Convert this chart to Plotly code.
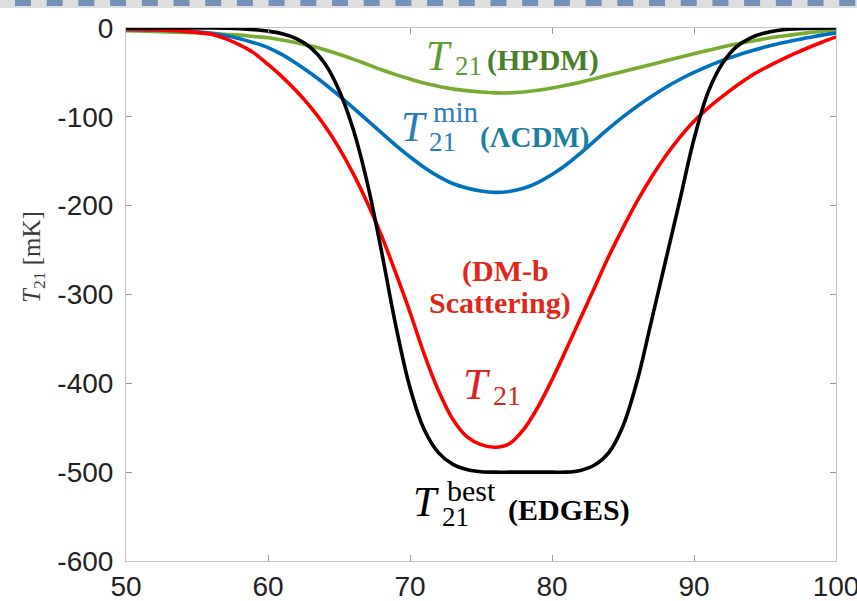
import plotly.graph_objects as go

# ---------------- data ----------------
freq = [50, 52, 54, 56, 57, 58, 59, 60, 61, 62, 63, 64, 65, 66, 67, 68, 69, 70,
        71, 72, 73, 74, 75, 76, 77, 78, 79, 80, 81, 82, 83, 84, 85, 86, 87, 88,
        89, 90, 91, 92, 93, 94, 95, 96, 97, 98, 99, 100]

t21_edges = [0, 0, 0, 0, -0.3, -0.8, -1.8, -3.5, -6.5, -12, -22, -40, -70, -114, -175, -252, -335, -405,
             -452, -478, -491, -497, -499.5, -500, -500, -500, -500, -500, -500, -498, -492, -478, -448, -397, -330, -262,
             -194, -125, -72, -40, -21, -11, -5.5, -2.5, -1, -0.4, -0.1, 0]

t21_dmb = [-1, -2, -3.5, -7, -12, -19, -28, -41, -55, -71, -89, -110, -135, -164, -197, -234, -276, -320,
           -367, -408, -440, -460, -469, -472, -468, -452, -427, -396, -362, -327, -292, -257, -225, -195, -168, -144,
           -123, -105, -90, -77, -65, -54, -45, -37, -29.5, -22.5, -16, -10]

t21_lcdm = [-2, -2.5, -3.5, -6, -8.5, -12, -16.5, -22, -30, -40, -51, -63, -76, -90, -104, -118, -132, -145,
            -157, -167, -175, -180, -183.5, -185, -184, -180.5, -174, -165, -154, -141, -127, -113, -100, -88, -77, -67,
            -58, -50, -43, -36.5, -31, -26, -21.5, -17.5, -14, -11, -8, -5.5]

t21_hpdm = [-3, -4, -5, -6, -7, -8, -9.5, -11, -13.5, -16.5, -20, -24.5, -29.5, -35, -41, -47, -52.5, -57.5,
            -62, -65.5, -68.5, -70.5, -72, -73, -73, -72, -70, -67.5, -64.5, -61, -57, -53, -49, -45, -41, -37,
            -33, -29, -25, -21.5, -18, -15, -12, -9.5, -7.5, -5.5, -3.5, -2]

x_ticks = [50, 60, 70, 80, 90, 100]
x_ticklabels = ["50", "60", "70", "80", "90", "100"]
y_ticks = [0, -100, -200, -300, -400, -500, -600]
y_ticklabels = ["0", "-100", "-200", "-300", "-400", "-500", "-600"]

# ---------------- figure ----------------
W, H = 857, 601
L, R, T, B = 126, 21, 28, 40
PW, PH = W - L - R, H - T - B


def px2paper(px, py):
    return (px - L) / PW, (H - B - py) / PH


fig = go.Figure()
series = [
    (t21_hpdm, "#77AC30", "HPDM"),
    (t21_lcdm, "#0072BD", "LCDM"),
    (t21_dmb, "#FF0000", "DM-b"),
    (t21_edges, "#000000", "EDGES"),
]
for ys, col, name in series:
    fig.add_trace(go.Scatter(x=freq, y=ys, mode="lines", name=name,
                             line=dict(color=col, width=3.6, shape="spline", smoothing=1.0),
                             showlegend=False, hoverinfo="skip"))

SERIF = "Liberation Serif, Times New Roman, serif"


def label(px, py, text, size, color, anchor="left", angle=0):
    x, y = px2paper(px, py)
    fig.add_annotation(x=x, y=y, xref="paper", yref="paper", text=text, showarrow=False,
                       xanchor=anchor, yanchor="middle", textangle=angle,
                       font=dict(family=SERIF, size=size, color=color))


# HPDM
label(424, 56, "<i>T</i>", 42, "#5f9a30")
label(453, 66, "21", 27, "#5f9a30")
label(485, 60, "<b>(HPDM)</b>", 30, "#4a7f2a")
# LCDM
label(399, 127, "<i>T</i>", 42, "#2a7dba")
label(431, 112, "min", 29, "#2a7dba")
label(427, 142, "21", 27, "#2a7dba")
label(478, 137, "<b>(ΛCDM)</b>", 29, "#1b7fa0")
# DM-b scattering
label(506, 271, "<b>(DM-b</b>", 30, "#e0281a", anchor="center")
label(500, 303, "<b>Scattering)</b>", 30, "#e0281a", anchor="center")
label(461, 384, "<i>T</i>", 44, "#e02020")
label(491, 395, "21", 28, "#e02020")
# EDGES
label(411, 502, "<i>T</i>", 42, "#000000")
label(445, 490, "best", 30, "#000000")
label(440, 517, "21", 27, "#000000")
label(506, 510, "<b>(EDGES)</b>", 30, "#000000")
# y-axis title
label(33, 257, "<i>T</i><sub>21</sub> [mK]", 25, "#3a3a3a", anchor="center", angle=-90)

# decorative dashed strip at the very top
shapes = []
x0, y0 = px2paper(0, 8)
x1, y1 = px2paper(W, 0)
shapes.append(dict(type="rect", xref="paper", yref="paper", x0=x0, x1=x1, y0=y0, y1=y1,
                   fillcolor="#dedede", line=dict(width=0), layer="above"))
k = 0
while 15 + k * 31.7 < W:
    sx0, sy0 = px2paper(15 + k * 31.7, 6)
    sx1, sy1 = px2paper(15 + k * 31.7 + 16, 0)
    shapes.append(dict(type="rect", xref="paper", yref="paper", x0=sx0, x1=sx1, y0=sy0, y1=sy1,
                       fillcolor="#7391b6", line=dict(width=0), layer="above"))
    k += 1

axis_common = dict(showline=True, linecolor="#c4c4c4", linewidth=1, mirror="ticks",
                   ticks="inside", ticklen=6, tickcolor="#9a9a9a", tickwidth=1,
                   showgrid=False, zeroline=False, automargin=False,
                   tickfont=dict(family="Liberation Sans, Arial, sans-serif", size=28, color="#222222"))

fig.update_layout(
    width=W, height=H,
    margin=dict(l=L, r=R, t=T, b=B, pad=0),
    paper_bgcolor="#ffffff", plot_bgcolor="#ffffff",
    xaxis=dict(range=[50, 100], tickvals=x_ticks, ticktext=x_ticklabels,
               ticklabeloverflow="allow", **axis_common),
    yaxis=dict(range=[-600, 0], tickvals=y_ticks, ticktext=y_ticklabels,
               ticklabelstandoff=6, ticklabeloverflow="allow", **axis_common),
    shapes=shapes,
    showlegend=False,
)

fig.write_html("out.html")
